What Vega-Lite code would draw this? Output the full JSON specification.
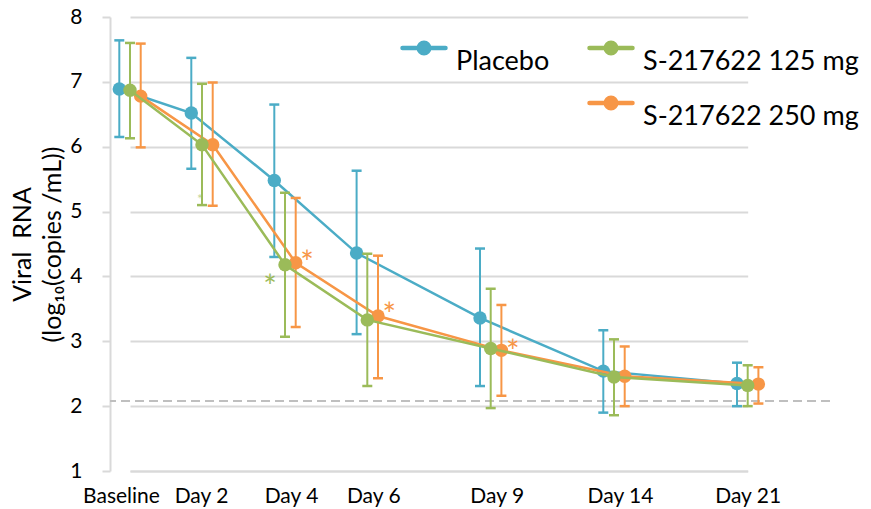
{
  "$schema": "https://vega.github.io/schema/vega-lite/v6.json",
  "width": 720,
  "height": 454,
  "autosize": "none",
  "padding": {"left": 110, "top": 17, "right": 41, "bottom": 38},
  "config": {
    "font": "Lato",
    "view": {"stroke": null},
    "axis": {"labelFont": "Lato", "titleFont": "Lato", "labelColor": "#000000", "titleColor": "#000000"}
  },
  "datasets": {
    "viral": [
      {"group": "Placebo", "day": 0, "mean": 6.89, "lo": 6.15, "hi": 7.64},
      {"group": "Placebo", "day": 2, "mean": 6.52, "lo": 5.66, "hi": 7.37},
      {"group": "Placebo", "day": 4, "mean": 5.48, "lo": 4.30, "hi": 6.65},
      {"group": "Placebo", "day": 6, "mean": 4.36, "lo": 3.11, "hi": 5.63},
      {"group": "Placebo", "day": 9, "mean": 3.36, "lo": 2.31, "hi": 4.43},
      {"group": "Placebo", "day": 14, "mean": 2.54, "lo": 1.90, "hi": 3.17},
      {"group": "Placebo", "day": 21, "mean": 2.35, "lo": 2.00, "hi": 2.67},
      {"group": "S-217622 125 mg", "day": 0, "mean": 6.87, "lo": 6.13, "hi": 7.60},
      {"group": "S-217622 125 mg", "day": 2, "mean": 6.03, "lo": 5.10, "hi": 6.97},
      {"group": "S-217622 125 mg", "day": 4, "mean": 4.18, "lo": 3.07, "hi": 5.29},
      {"group": "S-217622 125 mg", "day": 6, "mean": 3.33, "lo": 2.31, "hi": 4.35},
      {"group": "S-217622 125 mg", "day": 9, "mean": 2.89, "lo": 1.97, "hi": 3.81},
      {"group": "S-217622 125 mg", "day": 14, "mean": 2.45, "lo": 1.86, "hi": 3.03},
      {"group": "S-217622 125 mg", "day": 21, "mean": 2.32, "lo": 2.00, "hi": 2.63},
      {"group": "S-217622 250 mg", "day": 0, "mean": 6.78, "lo": 5.99, "hi": 7.59},
      {"group": "S-217622 250 mg", "day": 2, "mean": 6.03, "lo": 5.09, "hi": 6.99},
      {"group": "S-217622 250 mg", "day": 4, "mean": 4.21, "lo": 3.22, "hi": 5.21},
      {"group": "S-217622 250 mg", "day": 6, "mean": 3.39, "lo": 2.43, "hi": 4.32},
      {"group": "S-217622 250 mg", "day": 9, "mean": 2.86, "lo": 2.16, "hi": 3.56},
      {"group": "S-217622 250 mg", "day": 14, "mean": 2.46, "lo": 2.00, "hi": 2.92},
      {"group": "S-217622 250 mg", "day": 21, "mean": 2.34, "lo": 2.04, "hi": 2.60}
    ],
    "stars": [
      {"group": "S-217622 125 mg", "day": 4, "y": 4.0},
      {"group": "S-217622 250 mg", "day": 4, "y": 4.37},
      {"group": "S-217622 250 mg", "day": 6, "y": 3.57},
      {"group": "S-217622 250 mg", "day": 9, "y": 3.0}
    ],
    "faint_stars": [
      {"group": "S-217622 125 mg", "day": 2, "y": 5.25}
    ],
    "lloq": [{"lloq": 2.08}]
  },
  "layer": [
    {
      "data": {"name": "lloq"},
      "mark": {"type": "rule", "color": "#BFBFBF", "strokeWidth": 2, "strokeDash": [9, 5]},
      "encoding": {
        "y": {
          "field": "lloq", "type": "quantitative",
          "scale": {"domain": [1, 8], "nice": false, "zero": false},
          "axis": {
            "values": [1, 2, 3, 4, 5, 6, 7, 8], "format": "d",
            "grid": true, "gridColor": "#D9D9D9", "gridWidth": 2,
            "domainColor": "#D9D9D9", "domainWidth": 2,
            "tickColor": "#D9D9D9", "tickWidth": 2, "tickSize": 8,
            "labelFontSize": 21, "labelPadding": 20,
            "title": ["Viral\u00a0\u00a0RNA", "(log₁₀(copies\u00a0/mL))"],
            "titleFontSize": 25, "titleFontWeight": "normal", "titleLineHeight": 30, "titlePadding": 4
          }
        }
      }
    },
    {
      "data": {"name": "viral"},
      "transform": [{"filter": "datum.group == 'Placebo'"}],
      "encoding": {
        "x": {
          "field": "day", "type": "quantitative",
          "scale": {"domain": [0, 2, 4, 6, 9, 14, 21], "range": [20, 92, 175, 257.3, 380.7, 504, 637.7], "nice": false, "zero": false},
          "axis": {
            "values": [0, 2, 4, 6, 9, 14, 21],
            "labelExpr": "datum.value == 0 ? 'Baseline' : 'Day ' + datum.value",
            "grid": false, "ticks": false, "labelOverlap": false, "labelFlush": false,
            "domainColor": "#D9D9D9", "domainWidth": 2,
            "labelFontSize": 21, "labelPadding": 14, "title": null,
            "labelOffset": {
              "condition": [
                {"test": "datum.value == 0", "value": -9},
                {"test": "datum.value == 2", "value": -1},
                {"test": "datum.value == 21", "value": 0}
              ],
              "value": 6
            }
          }
        },
        "color": {
          "field": "group", "type": "nominal",
          "scale": {
            "domain": ["Placebo", "blank", "S-217622 125 mg", "S-217622 250 mg"],
            "range": ["#4BACC6", "rgba(0,0,0,0)", "#9BBB59", "#F79646"]
          },
          "legend": {
            "orient": "none", "legendX": 290, "legendY": 7, "columns": 2,
            "columnPadding": 30, "rowPadding": 4, "title": null,
            "symbolType": "M-1,0L1,0M-0.244,0A0.244,0.244,0,1,0,0.244,0A0.244,0.244,0,1,0,-0.244,0Z",
            "symbolSize": 1849, "symbolStrokeWidth": 4.5,
            "labelFontSize": 27, "labelFont": "Lato", "labelColor": "#000000", "labelOffset": 8, "labelLimit": 0,
            "labelExpr": "datum.label == 'blank' ? '' : datum.label",
            "encode": {
              "symbols": {"update": {"fill": {"scale": "color", "field": "value"}, "stroke": {"scale": "color", "field": "value"}, "strokeCap": {"value": "round"}, "opacity": {"value": 1}}},
              "labels": {"update": {"dy": {"value": 14}}}
            }
          }
        }
      },
      "layer": [
        {"mark": {"type": "rule", "xOffset": -10.7, "strokeWidth": 2}, "encoding": {"y": {"field": "lo", "type": "quantitative"}, "y2": {"field": "hi"}}},
        {"mark": {"type": "tick", "orient": "horizontal", "xOffset": -10.7, "size": 10, "thickness": 2.5, "opacity": 1}, "encoding": {"y": {"field": "lo", "type": "quantitative"}}},
        {"mark": {"type": "tick", "orient": "horizontal", "xOffset": -10.7, "size": 10, "thickness": 2.5, "opacity": 1}, "encoding": {"y": {"field": "hi", "type": "quantitative"}}},
        {"mark": {"type": "line", "xOffset": -10.7, "strokeWidth": 2.5}, "encoding": {"y": {"field": "mean", "type": "quantitative"}}},
        {"mark": {"type": "point", "filled": true, "opacity": 1, "size": 180, "xOffset": -10.7}, "encoding": {"y": {"field": "mean", "type": "quantitative"}}}
      ]
    },
    {
      "data": {"name": "viral"},
      "transform": [{"filter": "datum.group == 'S-217622 250 mg'"}],
      "encoding": {
        "x": {"field": "day", "type": "quantitative"},
        "color": {"field": "group", "type": "nominal"}
      },
      "layer": [
        {"mark": {"type": "rule", "xOffset": 10.7, "strokeWidth": 2}, "encoding": {"y": {"field": "lo", "type": "quantitative"}, "y2": {"field": "hi"}}},
        {"mark": {"type": "tick", "orient": "horizontal", "xOffset": 10.7, "size": 10, "thickness": 2.5, "opacity": 1}, "encoding": {"y": {"field": "lo", "type": "quantitative"}}},
        {"mark": {"type": "tick", "orient": "horizontal", "xOffset": 10.7, "size": 10, "thickness": 2.5, "opacity": 1}, "encoding": {"y": {"field": "hi", "type": "quantitative"}}},
        {"mark": {"type": "line", "xOffset": 10.7, "strokeWidth": 2.5}, "encoding": {"y": {"field": "mean", "type": "quantitative"}}},
        {"mark": {"type": "point", "filled": true, "opacity": 1, "size": 180, "xOffset": 10.7}, "encoding": {"y": {"field": "mean", "type": "quantitative"}}}
      ]
    },
    {
      "data": {"name": "viral"},
      "transform": [{"filter": "datum.group == 'S-217622 125 mg'"}],
      "encoding": {
        "x": {"field": "day", "type": "quantitative"},
        "color": {"field": "group", "type": "nominal"}
      },
      "layer": [
        {"mark": {"type": "rule", "strokeWidth": 2}, "encoding": {"y": {"field": "lo", "type": "quantitative"}, "y2": {"field": "hi"}}},
        {"mark": {"type": "tick", "orient": "horizontal", "size": 10, "thickness": 2.5, "opacity": 1}, "encoding": {"y": {"field": "lo", "type": "quantitative"}}},
        {"mark": {"type": "tick", "orient": "horizontal", "size": 10, "thickness": 2.5, "opacity": 1}, "encoding": {"y": {"field": "hi", "type": "quantitative"}}},
        {"mark": {"type": "line", "strokeWidth": 2.5}, "encoding": {"y": {"field": "mean", "type": "quantitative"}}},
        {"mark": {"type": "point", "filled": true, "opacity": 1, "size": 180}, "encoding": {"y": {"field": "mean", "type": "quantitative"}}}
      ]
    },
    {
      "data": {"name": "stars"},
      "transform": [{"filter": "datum.group == 'S-217622 125 mg'"}],
      "mark": {"type": "text", "text": "*", "fontSize": 32, "xOffset": -15, "dy": 12, "baseline": "middle", "align": "center"},
      "encoding": {
        "x": {"field": "day", "type": "quantitative"},
        "y": {"field": "y", "type": "quantitative"},
        "color": {"field": "group", "type": "nominal"}
      }
    },
    {
      "data": {"name": "stars"},
      "transform": [{"filter": "datum.group == 'S-217622 250 mg'"}],
      "mark": {"type": "text", "text": "*", "fontSize": 32, "xOffset": 22, "dy": 12, "baseline": "middle", "align": "center"},
      "encoding": {
        "x": {"field": "day", "type": "quantitative"},
        "y": {"field": "y", "type": "quantitative"},
        "color": {"field": "group", "type": "nominal"}
      }
    },
    {
      "data": {"name": "faint_stars"},
      "mark": {"type": "text", "text": "*", "fontSize": 14, "xOffset": -2, "dy": 5, "baseline": "middle", "align": "center", "opacity": 0.6},
      "encoding": {
        "x": {"field": "day", "type": "quantitative"},
        "y": {"field": "y", "type": "quantitative"},
        "color": {"field": "group", "type": "nominal"}
      }
    }
  ]
}
